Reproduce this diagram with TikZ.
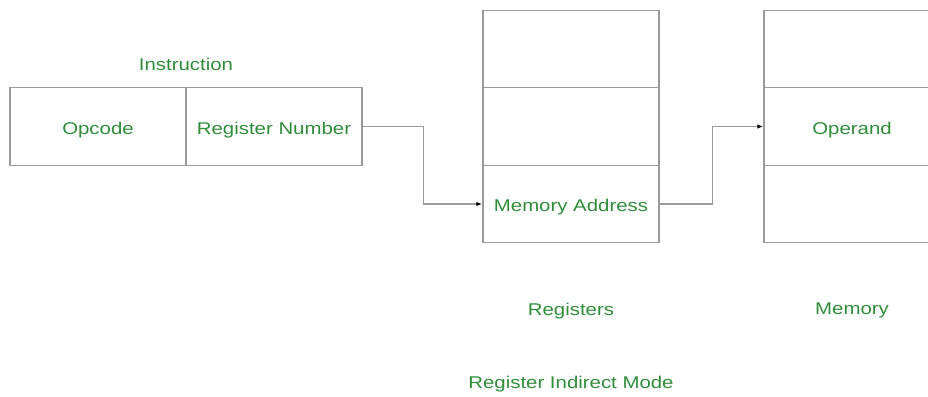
\documentclass[tikz,border=0pt]{standalone}
\usepackage{fontspec}
\setmainfont{Liberation Sans}[FakeStretch=1.2]
\usetikzlibrary{arrows.meta}

\definecolor{txtgreen}{HTML}{2F8D3A}
\definecolor{linegray}{HTML}{9A9A9A}

\tikzset{
  cell/.style={draw=linegray, line width=1.4pt, minimum width=176pt, minimum height=77.5pt,
               inner sep=0pt, text=txtgreen, font=\fontsize{17}{20}\selectfont},
  celltext/.style={text=txtgreen, font=\fontsize{17}{20}\selectfont, text depth=0pt, yshift=-1.5pt},
  lbl/.style={text=txtgreen, font=\fontsize{17}{20}\selectfont, text depth=0pt},
  link/.style={draw=linegray, line width=1.4pt, -{Latex[length=6pt,width=4.5pt,black]}}
}

\begin{document}
\begin{tikzpicture}[x=1pt, y=-1pt]

% page, right side of memory is cut off
\clip (0,0) rectangle (928,396);

% instruction
\node[lbl] (instr) at (186,64) {Instruction};
\node[cell] (opcode) at (98,126.5) {};
\node[cell] (regnum) at (274,126.5) {};
\node[celltext] at (opcode) {Opcode};
\node[celltext] at (regnum) {Register Number};

% registers and memory
\foreach \i/\y in {1/49, 2/126.5, 3/204} {
  \node[cell] (reg\i) at (571,\y) {};
  \node[cell] (mem\i) at (852,\y) {};
}
\node[celltext] at (reg3) {Memory Address};
\node[celltext] at (mem2) {Operand};

\node[lbl] (registers) at (571,309) {Registers};
\node[lbl] (memory) at (852,309) {Memory};
\node[lbl] (title) at (571,382) {Register Indirect Mode};

% connect
\draw[link] (regnum.east) -- ++(61,0) |- (reg3.west);
\draw[link] (reg3.east) -- ++(53,0) |- (mem2.west);

\end{tikzpicture}
\end{document}
